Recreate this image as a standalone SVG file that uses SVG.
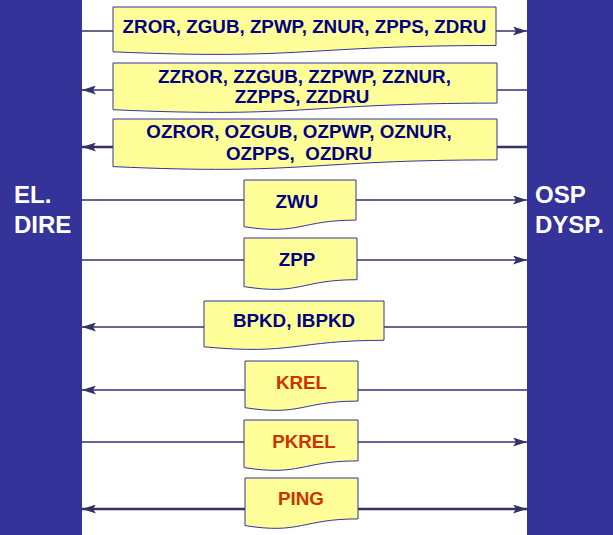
<svg xmlns="http://www.w3.org/2000/svg" width="613" height="535" viewBox="0 0 613 535">
<style>
.bar{fill:#333399}
.side{font-family:"Liberation Sans",Arial,sans-serif;font-weight:bold;font-size:24px;fill:#ffffff}
.ln{stroke:#333366;stroke-width:1.3;fill:none}
.lnt{stroke:#333366;stroke-width:2.6;fill:none}
.doc{fill:#ffff99;stroke:#333399;stroke-width:1}
.t{font-family:"Liberation Sans",Arial,sans-serif;font-weight:bold;font-size:18.8px;fill:#000080;text-anchor:middle;white-space:pre}
.r{fill:#cc3300}
</style>
<defs>
<marker id="ah" viewBox="0 0 14 9" refX="14" refY="4.5" markerWidth="14" markerHeight="9" markerUnits="userSpaceOnUse" orient="auto-start-reverse">
<path d="M0,0 L14,4.5 L0,9 L3,4.5 Z" fill="#333366"/>
</marker>
</defs>
<rect width="613" height="535" fill="#ffffff"/>
<g id="left-party">
<rect class="bar" x="0" y="0" width="82" height="535"/>
<text class="side" x="14" y="203">EL.</text>
<text class="side" x="14" y="233">DIRE</text>
</g>
<g id="right-party">
<rect class="bar" x="527" y="0" width="86" height="535"/>
<text class="side" x="535" y="203">OSP</text>
<text class="side" x="535" y="233">DYSP.</text>
</g>
<g id="connectors">
<line class="ln" x1="82" y1="31" x2="527" y2="31" marker-end="url(#ah)"/>
<line class="ln" x1="82" y1="90" x2="527" y2="90" marker-start="url(#ah)"/>
<line class="lnt" x1="82" y1="147" x2="527" y2="147" marker-start="url(#ah)"/>
<line class="ln" x1="82" y1="200" x2="527" y2="200" marker-end="url(#ah)"/>
<line class="ln" x1="82" y1="260" x2="527" y2="260" marker-end="url(#ah)"/>
<line class="ln" x1="82" y1="327" x2="527" y2="327" marker-start="url(#ah)"/>
<line class="ln" x1="82" y1="390" x2="527" y2="390" marker-start="url(#ah)"/>
<line class="ln" x1="82" y1="442" x2="527" y2="442" marker-end="url(#ah)"/>
<line class="lnt" x1="82" y1="509" x2="527" y2="509" marker-start="url(#ah)" marker-end="url(#ah)"/>
</g>
<g id="msg1">
<path class="doc" d="M113,7 H496 V45.5 C304.5,45.5 304.5,60.2 113,51.8 Z"/>
<text class="t" x="304.5" y="33">ZROR, ZGUB, ZPWP, ZNUR, ZPPS, ZDRU</text>
</g>
<g id="msg2">
<path class="doc" d="M113,63 H497 V103.1 C305,103.1 305,118.4 113,109.7 Z"/>
<text class="t" x="304.5" y="83">ZZROR, ZZGUB, ZZPWP, ZZNUR,</text>
<text class="t" x="302" y="103">ZZPPS, ZZDRU</text>
</g>
<g id="msg3">
<path class="doc" d="M113,119 H497 V159.9 C305,159.9 305,175.5 113,166.6 Z"/>
<text class="t" x="299" y="138">OZROR, OZGUB, OZPWP, OZNUR,</text>
<text class="t" x="299" y="160">OZPPS,  OZDRU</text>
</g>
<g id="msg-zwu">
<path class="doc" d="M244,180 H356 V220.1 C300,220.1 300,235.4 244,226.7 Z"/>
<text class="t" x="297" y="208">ZWU</text>
</g>
<g id="msg-zpp">
<path class="doc" d="M244,238 H357 V279.7 C300.5,279.7 300.5,295.6 244,286.6 Z"/>
<text class="t" x="297" y="266">ZPP</text>
</g>
<g id="msg-bpkd">
<path class="doc" d="M204,301 H384 V340.3 C294,340.3 294,355.3 204,346.8 Z"/>
<text class="t" x="294" y="327">BPKD, IBPKD</text>
</g>
<g id="msg-krel">
<path class="doc" d="M245,361 H358 V401.1 C301.5,401.1 301.5,416.4 245,407.7 Z"/>
<text class="t r" x="301.5" y="389">KREL</text>
</g>
<g id="msg-pkrel">
<path class="doc" d="M244,420 H358 V460.9 C301,460.9 301,476.5 244,467.6 Z"/>
<text class="t r" x="304" y="448">PKREL</text>
</g>
<g id="msg-ping">
<path class="doc" d="M245,478 H358 V518.9 C301.5,518.9 301.5,534.5 245,525.6 Z"/>
<text class="t r" x="301" y="505">PING</text>
</g>
</svg>
